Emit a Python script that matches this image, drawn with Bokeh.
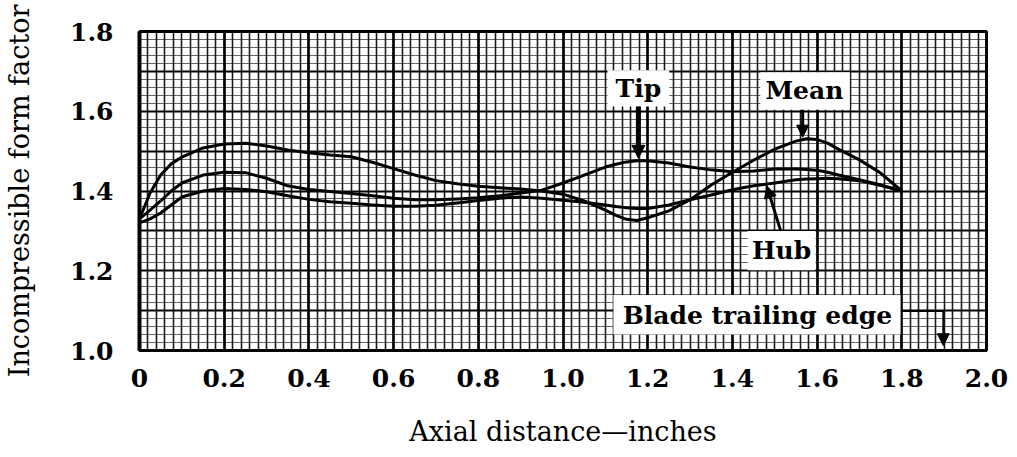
import numpy as np
from bokeh.plotting import figure
from bokeh.models import FixedTicker, Label, BoxAnnotation, Arrow, NormalHead
from bokeh.embed import file_html
from bokeh.resources import INLINE

# ---- data ----
x_pos = [0.00, 0.025, 0.05, 0.075, 0.10, 0.15, 0.20, 0.25, 0.30, 0.35, 0.40, 0.45, 0.50, 0.55,
         0.60, 0.65, 0.70, 0.75, 0.80, 0.85, 0.90, 0.95, 1.00, 1.05, 1.10, 1.125, 1.15, 1.175,
         1.20, 1.25, 1.30, 1.35, 1.40, 1.45, 1.50, 1.55, 1.575, 1.60, 1.625, 1.65, 1.70, 1.75, 1.80]

mean_ff = [1.33, 1.395, 1.44, 1.468, 1.485, 1.508, 1.518, 1.52, 1.513, 1.503, 1.496, 1.49, 1.486, 1.472,
           1.456, 1.44, 1.426, 1.418, 1.412, 1.408, 1.405, 1.40, 1.392, 1.375, 1.352, 1.339, 1.329, 1.326,
           1.333, 1.35, 1.378, 1.415, 1.447, 1.477, 1.505, 1.525, 1.531, 1.529, 1.52, 1.505, 1.478, 1.445, 1.40]

tip_ff = [1.33, 1.352, 1.375, 1.40, 1.42, 1.44, 1.447, 1.446, 1.432, 1.413, 1.404, 1.399, 1.394, 1.388,
          1.382, 1.378, 1.378, 1.38, 1.383, 1.388, 1.395, 1.402, 1.42, 1.44, 1.46, 1.467, 1.473, 1.476,
          1.476, 1.47, 1.46, 1.453, 1.448, 1.45, 1.455, 1.455, 1.454, 1.452, 1.447, 1.44, 1.428, 1.415, 1.40]

hub_ff = [1.32, 1.33, 1.345, 1.365, 1.385, 1.40, 1.406, 1.404, 1.398, 1.388, 1.379, 1.373, 1.369, 1.365,
          1.362, 1.362, 1.364, 1.37, 1.376, 1.382, 1.385, 1.382, 1.377, 1.372, 1.365, 1.361, 1.358, 1.356,
          1.356, 1.365, 1.378, 1.39, 1.403, 1.413, 1.42, 1.428, 1.43, 1.431, 1.432, 1.431, 1.426, 1.414, 1.40]

x_ticks = [0, 0.2, 0.4, 0.6, 0.8, 1.0, 1.2, 1.4, 1.6, 1.8, 2.0]
x_tick_labels = ["0", "0.2", "0.4", "0.6", "0.8", "1.0", "1.2", "1.4", "1.6", "1.8", "2.0"]
y_ticks = [1.0, 1.2, 1.4, 1.6, 1.8]
y_tick_labels = ["1.0", "1.2", "1.4", "1.6", "1.8"]

FONT = "DejaVu Serif"

p = figure(width=1009, height=449, x_range=(0, 2.0), y_range=(1.0, 1.8),
           output_backend="svg", toolbar_location=None,
           min_border_left=139, min_border_right=23, min_border_top=31, min_border_bottom=95)

p.background_fill_color = "white"
p.outline_line_color = "black"
p.outline_line_width = 3

# graph-paper grid
p.xgrid.ticker = FixedTicker(ticks=[round(v, 2) for v in np.arange(0, 2.001, 0.2)],
                             minor_ticks=[round(v, 2) for v in np.arange(0, 2.001, 0.02)])
p.xgrid.grid_line_color = "black"
p.xgrid.grid_line_width = 2.6
p.xgrid.minor_grid_line_color = "black"
p.xgrid.minor_grid_line_width = 1.6
p.xgrid.minor_grid_line_alpha = 0.9

p.ygrid.ticker = FixedTicker(ticks=[round(v, 2) for v in np.arange(1.0, 1.801, 0.1)],
                             minor_ticks=[round(v, 2) for v in np.arange(1.0, 1.8001, 0.02)])
p.ygrid.grid_line_color = "black"
p.ygrid.grid_line_width = 2
p.ygrid.minor_grid_line_color = "black"
p.ygrid.minor_grid_line_width = 1.2
p.ygrid.minor_grid_line_alpha = 0.6

# axes
p.xaxis.ticker = FixedTicker(ticks=x_ticks)
p.xaxis.major_label_overrides = dict(zip(x_ticks, x_tick_labels))
p.yaxis.ticker = FixedTicker(ticks=y_ticks)
p.yaxis.major_label_overrides = dict(zip(y_ticks, y_tick_labels))

for ax in (p.xaxis, p.yaxis):
    ax.major_tick_line_color = None
    ax.minor_tick_line_color = None
    ax.axis_line_color = "black"
    ax.major_label_text_font = FONT
    ax.major_label_text_font_style = "bold"
    ax.major_label_text_font_size = "25px"
    ax.major_label_text_color = "black"
    ax.axis_label_text_font = FONT
    ax.axis_label_text_font_style = "normal"
    ax.axis_label_text_font_size = "27px"
    ax.axis_label_text_color = "black"

p.yaxis.axis_line_width = 4
p.xaxis.axis_line_width = 3
p.xaxis.major_label_standoff = 12
p.xaxis.axis_label_standoff = 26
p.yaxis.major_label_standoff = 20
p.yaxis.axis_label_standoff = 32
p.xaxis.axis_label = "Axial distance\u2014inches"
p.yaxis.axis_label = "Incompressible form factor"

# curves
for ys in (mean_ff, tip_ff, hub_ff):
    p.line(x_pos, ys, line_color="black", line_width=3, line_join="round")

# annotation boxes and labels
def boxed(text, left, right, bottom, top, tx, ty):
    p.add_layout(BoxAnnotation(left=left, right=right, bottom=bottom, top=top,
                               fill_color="white", fill_alpha=1.0, line_color=None))
    p.add_layout(Label(x=tx, y=ty, text=text, text_align="center", text_baseline="middle",
                       text_font=FONT, text_font_style="bold", text_font_size="25px",
                       text_color="black"))

boxed("Tip", 1.105, 1.251, 1.612, 1.703, 1.178, 1.658)
boxed("Mean", 1.466, 1.677, 1.604, 1.698, 1.570, 1.652)
boxed("Hub", 1.436, 1.596, 1.201, 1.300, 1.516, 1.250)
boxed("Blade trailing edge", 1.119, 1.797, 1.040, 1.139, 1.459, 1.089)

def arrow(x0, y0, x1, y1, w, size):
    p.add_layout(Arrow(end=NormalHead(size=size, fill_color="black", line_color="black"),
                       x_start=x0, y_start=y0, x_end=x1, y_end=y1,
                       line_color="black", line_width=w))

arrow(1.178, 1.612, 1.178, 1.482, 5, 13)
arrow(1.566, 1.604, 1.566, 1.535, 3, 12)
arrow(1.514, 1.300, 1.481, 1.413, 3, 12)
p.line([1.797, 1.898], [1.099, 1.099], line_color="black", line_width=2)
arrow(1.898, 1.099, 1.898, 1.012, 2, 12)

open("out.html", "w").write(file_html(p, INLINE))
